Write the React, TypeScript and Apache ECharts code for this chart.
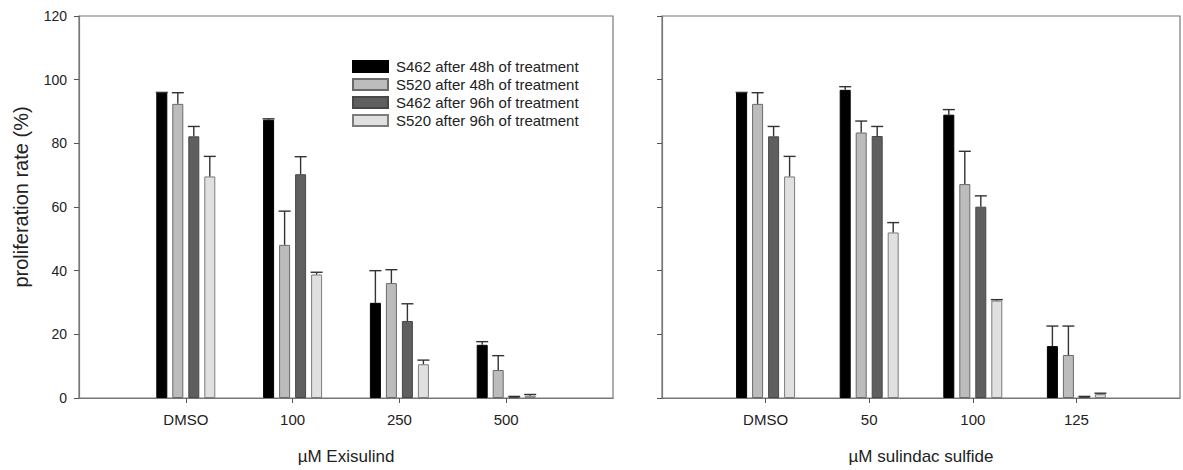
import React, { useEffect, useRef } from "react";
import * as echarts from "echarts";

const seriesNames = [
  "S462 after 48h of treatment",
  "S520 after 48h of treatment",
  "S462 after 96h of treatment",
  "S520 after 96h of treatment",
];
const exisulindDoses = ["DMSO", "100", "250", "500"];
const sulindacDoses = ["DMSO", "50", "100", "125"];
const yMin = 0;
const yMax = 120;
const yStep = 20;

// Exisulind panel: values and upper error (SD)
const exS462h48 = [96, 87.4, 29.9, 16.7];
const exS520h48 = [92.4, 48.1, 36.1, 8.8];
const exS462h96 = [82.2, 70.3, 24.2, 0.4];
const exS520h96 = [69.6, 38.8, 10.6, 0.7];
const exS462h48Err = [0, 0.3, 10.1, 1.0];
const exS520h48Err = [3.5, 10.6, 4.2, 4.5];
const exS462h96Err = [3.1, 5.5, 5.4, 0.1];
const exS520h96Err = [6.3, 0.7, 1.3, 0.4];

// Sulindac sulfide panel
const suS462h48 = [96, 96.8, 89.0, 16.3];
const suS520h48 = [92.4, 83.4, 67.2, 13.5];
const suS462h96 = [82.2, 82.3, 60.1, 0.4];
const suS520h96 = [69.6, 52.0, 30.6, 1.2];
const suS462h48Err = [0, 1.0, 1.6, 6.3];
const suS520h48Err = [3.5, 3.6, 10.3, 9.1];
const suS462h96Err = [3.1, 3.0, 3.4, 0.1];
const suS520h96Err = [6.3, 3.1, 0.3, 0.3];

const fills = ["#000000", "#bcbcbc", "#5f5f5f", "#e0e0e0"];
const borders = ["#000000", "#6a6a6a", "#484848", "#7c7c7c"];
const FONT = "'Liberation Sans', Arial, sans-serif";
const BAR_W = 11;
const BAR_PITCH = 16;

const pad = (arr: (string | number)[]) => ["", ...arr, ""];

export default function App() {
  const ref = useRef<HTMLDivElement>(null);
  useEffect(() => {
    if (!ref.current) return;
    const chart = echarts.init(ref.current, undefined, { renderer: "svg" });

    const panels = [
      {
        doses: exisulindDoses,
        vals: [exS462h48, exS520h48, exS462h96, exS520h96],
        errs: [exS462h48Err, exS520h48Err, exS462h96Err, exS520h96Err],
      },
      {
        doses: sulindacDoses,
        vals: [suS462h48, suS520h48, suS462h96, suS520h96],
        errs: [suS462h48Err, suS520h48Err, suS462h96Err, suS520h96Err],
      },
    ];

    const errRender = (params: any, api: any) => {
      const cat = api.value(0);
      const v = api.value(1);
      const e = api.value(2);
      const s = api.value(3);
      const off = (s - 1.5) * BAR_PITCH;
      const base = api.coord([cat, v]);
      const top = api.coord([cat, v + e]);
      const x = base[0] + off;
      const st = { stroke: "#333333", lineWidth: 1.4 };
      return {
        type: "group",
        children: [
          { type: "line", shape: { x1: x, y1: base[1], x2: x, y2: top[1] }, style: st },
          { type: "line", shape: { x1: x - 6, y1: top[1], x2: x + 6, y2: top[1] }, style: st },
        ],
      };
    };

    const series: any[] = [];
    panels.forEach((p, gi) => {
      p.vals.forEach((vals, si) => {
        series.push({
          type: "bar",
          name: seriesNames[si],
          xAxisIndex: gi,
          yAxisIndex: gi,
          barWidth: BAR_W,
          barGap: `${((BAR_PITCH - BAR_W) / BAR_W) * 100}%`,
          data: ["-", ...vals, "-"],
          itemStyle: { color: fills[si], borderColor: borders[si], borderWidth: 1 },
        });
      });
      const errData: number[][] = [];
      p.vals.forEach((vals, si) => {
        vals.forEach((v, ci) => errData.push([ci + 1, v, p.errs[si][ci], si]));
      });
      series.push({
        type: "custom",
        xAxisIndex: gi,
        yAxisIndex: gi,
        z: 5,
        renderItem: errRender,
        encode: { x: 0, y: 1 },
        data: errData,
        silent: true,
      });
    });

    const xAxisCommon = (doses: string[], name: string, gi: number) => ({
      type: "category",
      gridIndex: gi,
      boundaryGap: false,
      data: pad(doses),
      name,
      nameLocation: "middle",
      nameGap: 50,
      nameTextStyle: { fontFamily: FONT, fontSize: 17, color: "#222" },
      axisLine: { lineStyle: { color: "#777", width: 1.2 } },
      axisTick: {
        length: 5,
        interval: (i: number) => i >= 1 && i <= doses.length,
        lineStyle: { color: "#555" },
      },
      axisLabel: { interval: 0, fontFamily: FONT, fontSize: 15, color: "#222", margin: 14 },
      splitLine: { show: false },
    });

    const yAxisCommon = (gi: number) => ({
      type: "value",
      gridIndex: gi,
      min: yMin,
      max: yMax,
      interval: yStep,
      name: gi === 0 ? "proliferation rate (%)" : "",
      nameLocation: "middle",
      nameGap: 48,
      nameTextStyle: { fontFamily: FONT, fontSize: 20, color: "#222", padding: [0, 0, 0, 20] },
      axisLine: { show: true, lineStyle: { color: "#777", width: 1.2 } },
      axisTick: { show: true, length: 5, lineStyle: { color: "#555" } },
      axisLabel: { show: gi === 0, fontFamily: FONT, fontSize: 14, color: "#222", margin: 12 },
      splitLine: { show: false },
    });

    chart.setOption({
      animation: false,
      backgroundColor: "#ffffff",
      textStyle: { fontFamily: FONT },
      grid: [
        { left: 79, top: 16, width: 534, height: 383, show: true, borderColor: "#777", borderWidth: 1.2, backgroundColor: "transparent" },
        { left: 662, top: 16, width: 533, height: 383, show: true, borderColor: "#777", borderWidth: 1.2, backgroundColor: "transparent" },
      ],
      legend: {
        data: seriesNames,
        orient: "vertical",
        left: 352,
        top: 59,
        padding: 0,
        itemWidth: 35,
        itemHeight: 11,
        itemGap: 3,
        icon: "rect",
        textStyle: { fontFamily: FONT, fontSize: 15, color: "#222", padding: [0, 0, 0, 3] },
        selectedMode: false,
      },
      xAxis: [
        xAxisCommon(exisulindDoses, "µM Exisulind", 0),
        xAxisCommon(sulindacDoses, "µM sulindac sulfide", 1),
      ],
      yAxis: [yAxisCommon(0), yAxisCommon(1)],
      series,
    });
    return () => chart.dispose();
  }, []);

  return (
    <div
      ref={ref}
      style={{ position: "absolute", left: 0, top: 0, width: 1183, height: 470, background: "#fff" }}
    />
  );
}
